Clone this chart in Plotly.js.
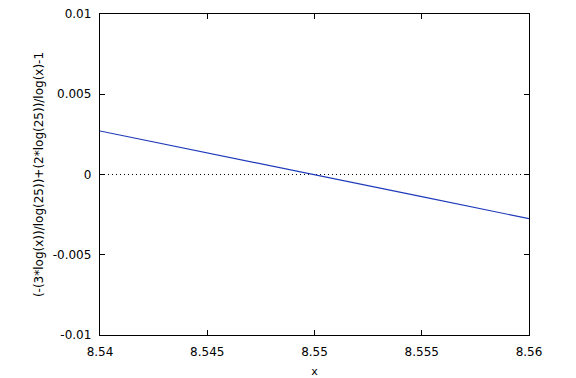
<!DOCTYPE html>
<html>
<head>
<meta charset="utf-8">
<script src="https://cdn.plot.ly/plotly-3.0.1.min.js"></script>
<style>html,body{margin:0;padding:0;background:#fff;}#chart{width:576px;height:378px;}</style>
</head>
<body>
<div id="chart"></div>
<script>
// Values
const xValues = [8.54, 8.545, 8.55, 8.555, 8.56];
const yValues = [0.00271, 0.00136, 0.0, -0.00138, -0.00275];
const xTicks = [8.54, 8.545, 8.55, 8.555, 8.56];
const xTickLabels = ["8.54", "8.545", "8.55", "8.555", "8.56"];
const yTicks = [-0.01, -0.005, 0, 0.005, 0.01];
const yTickLabels = ["-0.01", "-0.005", "0", "0.005", "0.01"];
const xLabel = "x";
const yLabel = "(-(3*log(x))/log(25))+(2*log(25))/log(x)-1";

const font = {family: "DejaVu Sans, Verdana, sans-serif", size: 12, color: "#000"};

const traces = [
  {x: [xTicks[0], xTicks[xTicks.length-1]], y: [0, 0], mode: "lines",
   line: {color: "#000", width: 1, dash: "1px,3px"}, hoverinfo: "skip"},
  {x: xValues, y: yValues, mode: "lines", line: {color: "#1f3aba", width: 1.2}}
];

const layout = {
  width: 576, height: 378,
  margin: {l: 100, r: 47, t: 14, b: 43},
  paper_bgcolor: "#fff", plot_bgcolor: "#fff",
  showlegend: false,
  font: font,
  xaxis: {
    range: [xTicks[0], xTicks[xTicks.length-1]],
    tickvals: xTicks, ticktext: xTickLabels,
    ticks: "inside", ticklen: 5, tickwidth: 1, tickcolor: "#000",
    showline: true, linecolor: "#000", linewidth: 1.2, mirror: "ticks",
    showgrid: false, zeroline: false,
    tickfont: font, ticklabelstandoff: 5,
    title: {text: xLabel, font: {family: font.family, size: 11, color: "#000"}, standoff: 14}
  },
  yaxis: {
    range: [yTicks[0], yTicks[yTicks.length-1]],
    tickvals: yTicks, ticktext: yTickLabels,
    ticks: "inside", ticklen: 5, tickwidth: 1, tickcolor: "#000",
    showline: true, linecolor: "#000", linewidth: 1.2, mirror: "ticks",
    showgrid: false, zeroline: false,
    tickfont: font, ticklabelstandoff: 5,
    title: {text: yLabel, font: font, standoff: 6}
  }
};

Plotly.newPlot("chart", traces, layout, {staticPlot: true, displayModeBar: false});
</script>
</body>
</html>
